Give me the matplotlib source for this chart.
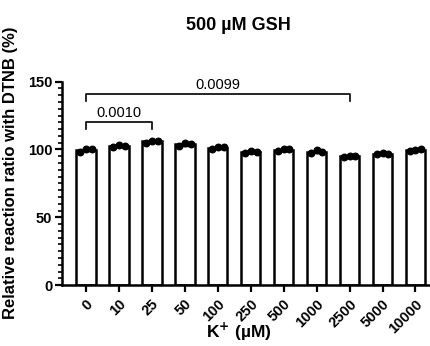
import matplotlib
matplotlib.use("Agg")
import matplotlib.pyplot as plt
import numpy as np
from matplotlib.ticker import MultipleLocator

plt.rcParams['font.family'] = ['Liberation Sans', 'DejaVu Sans']
plt.rcParams['font.weight'] = 'bold'

# data
conc = ['0', '10', '25', '50', '100', '250', '500', '1000', '2500', '5000', '10000']
rep1 = [98.5, 102.0, 105.0, 102.5, 100.5, 97.5, 99.0, 97.5, 94.5, 96.5, 99.0]
rep2 = [100.5, 103.5, 106.5, 104.5, 102.0, 99.0, 100.5, 99.5, 95.5, 97.5, 99.5]
rep3 = [100.0, 102.5, 106.5, 104.0, 101.5, 98.5, 100.0, 98.5, 95.5, 97.0, 100.0]
brackets = [(0, 2, 120, '0.0010'), (0, 8, 141, '0.0099')]

reps = np.array([rep1, rep2, rep3])
means = reps.mean(axis=0)
sds = reps.std(axis=0, ddof=1)
x = np.arange(len(conc))

fig = plt.figure(figsize=(4.3, 3.46), dpi=100)
ax = fig.add_axes([0.144, 0.176, 0.856, 0.588])

ax.bar(x, means, width=0.6, color='white', edgecolor='black', linewidth=1.8, zorder=1)
ax.errorbar(x, means, yerr=sds, fmt='none', ecolor='black', elinewidth=1.2, capsize=3, zorder=2)
offsets = [-0.18, 0.0, 0.18]
for i in range(3):
    ax.scatter(x + offsets[i], reps[i], s=22, color='black', zorder=3)

for a, b, h, label in brackets:
    ax.plot([a, a, b, b], [h - 5, h, h, h - 5], color='black', lw=1.2, clip_on=False)
    ax.text((a + b) / 2, h + 1.5, label, ha='center', va='bottom', fontsize=10.5, fontweight='normal')

ax.set_xlim(-0.72, 10.44)
ax.set_ylim(0, 150)
ax.set_yticks([0, 50, 100, 150])
ax.yaxis.set_minor_locator(MultipleLocator(5))
ax.set_xticks(x)
ax.set_xticklabels(conc, rotation=45, ha='right', rotation_mode='anchor', fontsize=10.5)
ax.tick_params(axis='y', labelsize=10.5, width=1.6, length=5, pad=2)
ax.tick_params(axis='y', which='minor', width=1.2, length=3)
ax.tick_params(axis='x', width=1.6, length=5)

for s in ['top', 'right']:
    ax.spines[s].set_visible(False)
for s in ['left', 'bottom']:
    ax.spines[s].set_linewidth(1.8)

ax.set_ylabel('Relative reaction ratio with DTNB (%)', fontsize=12, fontweight='bold')
ax.yaxis.set_label_coords(-0.12, 0.55)
ax.set_xlabel('K$^{+}$ (µM)', fontsize=12.5, fontweight='bold')
ax.xaxis.set_label_coords(0.48, -0.175)
fig.text(0.554, 0.925, '500 µM GSH', ha='center', va='center', fontsize=13, fontweight='bold')

fig.savefig('out.png', dpi=100)
